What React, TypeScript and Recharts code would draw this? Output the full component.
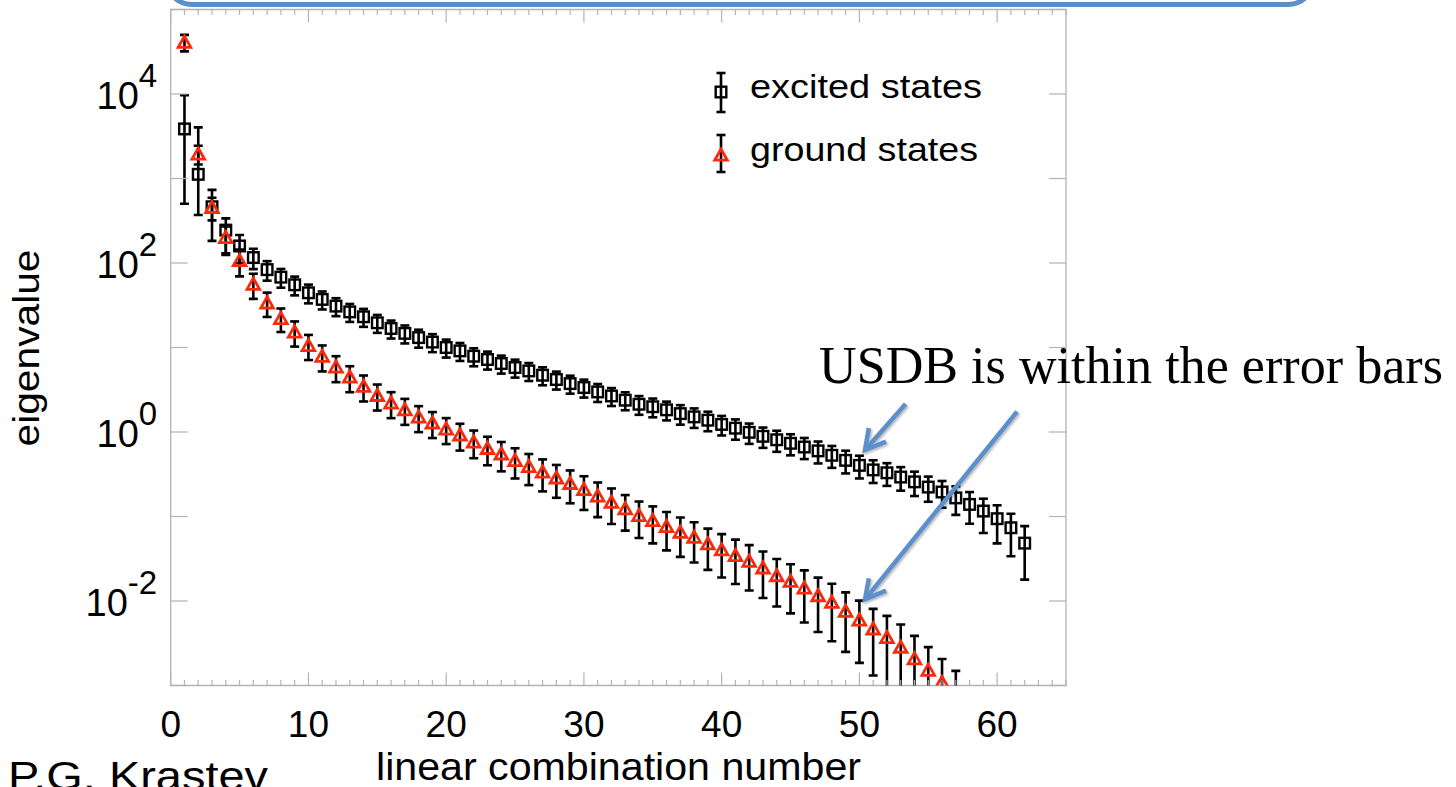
import React from 'react';
import { ScatterChart, Scatter, XAxis, YAxis, ErrorBar, Legend, ReferenceArea } from 'recharts';

// ---------- data ----------
const seriesNames = ['excited states', 'ground states'];

// excited states: eigenvalue for linear combination number 1..62
const excitedValues = [
  3860, 1120, 463, 245, 159, 116, 83.5, 68, 55.2, 44.4,
  37.1, 30.9, 26.4, 23.1, 19.6, 16.8, 14.7, 13.1, 11.6, 10.0,
  9.12, 7.89, 7.21, 6.46, 5.79, 5.28, 4.7, 4.18, 3.74, 3.36,
  2.98, 2.67, 2.38, 2.13, 1.99, 1.83, 1.65, 1.51, 1.38, 1.23,
  1.11, 0.991, 0.889, 0.809, 0.735, 0.664, 0.598, 0.53, 0.462, 0.403,
  0.356, 0.329, 0.293, 0.257, 0.223, 0.195, 0.166, 0.139, 0.116, 0.0942,
  0.0736, 0.0484,
];
// relative error (upper / lower) of excited states
const excitedErrUp = [
  1.5, 2.6, 0.585, 0.377, 0.35, 0.27, 0.26, 0.25, 0.25, 0.25,
  0.24, 0.24, 0.24, 0.24, 0.24, 0.24, 0.24, 0.24, 0.24, 0.24,
  0.24, 0.24, 0.24, 0.24, 0.24, 0.24, 0.24, 0.24, 0.24, 0.24,
  0.24, 0.24, 0.24, 0.25, 0.25, 0.25, 0.26, 0.26, 0.26, 0.26,
  0.27, 0.27, 0.27, 0.28, 0.28, 0.28, 0.29, 0.29, 0.3, 0.3,
  0.3, 0.3, 0.31, 0.32, 0.33, 0.35, 0.37, 0.4, 0.4, 0.44,
  0.465, 0.59,
];
const excitedErrDown = [
  0.87, 0.67, 0.605, 0.49, 0.37, 0.27, 0.26, 0.25, 0.25, 0.25,
  0.24, 0.24, 0.24, 0.24, 0.24, 0.24, 0.24, 0.24, 0.24, 0.24,
  0.24, 0.24, 0.24, 0.24, 0.24, 0.24, 0.24, 0.24, 0.24, 0.24,
  0.24, 0.24, 0.24, 0.25, 0.25, 0.25, 0.26, 0.26, 0.26, 0.26,
  0.27, 0.27, 0.27, 0.28, 0.28, 0.28, 0.29, 0.29, 0.3, 0.3,
  0.3, 0.3, 0.31, 0.32, 0.33, 0.35, 0.37, 0.41, 0.45, 0.49,
  0.54, 0.63,
];

// ground states: eigenvalue for linear combination number 1..57
const groundValues = [
  41000, 1950, 456, 201, 107, 56.2, 33.8, 22.1, 15.3, 10.6,
  7.89, 5.89, 4.48, 3.48, 2.72, 2.21, 1.84, 1.51, 1.285, 1.09,
  0.927, 0.765, 0.641, 0.552, 0.462, 0.392, 0.336, 0.287, 0.247, 0.2095,
  0.1754, 0.148, 0.1237, 0.103, 0.0899, 0.0763, 0.0653, 0.057, 0.0476, 0.0404,
  0.0346, 0.0296, 0.0247, 0.02, 0.0172, 0.0143, 0.0116, 0.00968, 0.00757, 0.00598,
  0.00469, 0.0037, 0.00285, 0.00208, 0.00152, 0.00109, 0.00078,
];
// relative (symmetric) error of ground states
const groundErr = [
  0.22, 0.25, 0.3, 0.35, 0.35, 0.33, 0.32, 0.31, 0.33, 0.33,
  0.34, 0.34, 0.34, 0.34, 0.34, 0.34, 0.34, 0.34, 0.34, 0.34,
  0.35, 0.36, 0.37, 0.38, 0.39, 0.4, 0.41, 0.42, 0.42, 0.43,
  0.44, 0.45, 0.45, 0.46, 0.465, 0.48, 0.49, 0.5, 0.51, 0.53,
  0.54, 0.55, 0.56, 0.57, 0.585, 0.61, 0.63, 0.655, 0.67, 0.69,
  0.72, 0.8, 0.85, 0.86, 0.87, 0.89, 0.91,
];

const xTicks = Array.from({ length: 66 }, (_, i) => i);
const xTickLabels = [0, 10, 20, 30, 40, 50, 60];
const yTicks = [1e-3, 1e-2, 1e-1, 1, 10, 100, 1000, 1e4, 1e5];
const yTickLabelExps = [-2, 0, 2, 4];

const excitedData = excitedValues.map((v, i) => ({
  x: i + 1,
  y: v,
  err: [v * excitedErrDown[i], v * excitedErrUp[i]],
}));
const groundData = groundValues.map((v, i) => ({
  x: i + 1,
  y: v,
  err: [v * groundErr[i], v * groundErr[i]],
}));

// ---------- styles ----------
const W = 1456;
const H = 787;
const PLOT_TOP = 9.5;
const PLOT_LEFT = 170.7;
const PLOT_RIGHT = 1066;
const PLOT_BOTTOM = 685.5;
const X_AXIS_H = 30;
const SANS = '"Liberation Sans", Arial, Helvetica, sans-serif';
const SERIF = '"Liberation Serif", "Times New Roman", serif';
const GRID = '#b3b3b3';
const RED = '#f82a0c';
const BLUE = '#5b8fcb';

const SquareShape = (props: any) => {
  const { cx, cy } = props;
  if (cx == null || cy == null) return <g />;
  return <rect x={cx - 5.3} y={cy - 5.3} width={10.6} height={10.6} fill="none" stroke="#000" strokeWidth={2.4} />;
};

const TriangleShape = (props: any) => {
  const { cx, cy } = props;
  if (cx == null || cy == null) return <g />;
  return (
    <path
      d={`M${cx},${cy - 6} L${cx + 6.3},${cy + 5.2} L${cx - 6.3},${cy + 5.2} Z`}
      fill="none"
      stroke={RED}
      strokeWidth={2.8}
      strokeLinejoin="miter"
    />
  );
};

const XTick = (props: any) => {
  const { x, y, payload } = props;
  const v = payload.value;
  const major = v % 10 === 0;
  const len = major ? 13 : 5.5;
  return (
    <g>
      <line x1={x} x2={x} y1={y} y2={y - len} stroke={GRID} strokeWidth={1.2} />
      <line x1={x} x2={x} y1={PLOT_TOP} y2={PLOT_TOP + len} stroke={GRID} strokeWidth={1.2} />
      {xTickLabels.includes(v) && (
        <text x={x} y={y + 51.5} textAnchor="middle" fontFamily={SANS} fontSize={37} fill="#000">
          {v}
        </text>
      )}
    </g>
  );
};

const YTick = (props: any) => {
  const { x, y, payload } = props;
  const e = Math.round(Math.log10(payload.value));
  return (
    <g>
      <line x1={x} x2={x + 17} y1={y} y2={y} stroke={GRID} strokeWidth={1.2} />
      <line x1={PLOT_RIGHT - 17} x2={PLOT_RIGHT} y1={y} y2={y} stroke={GRID} strokeWidth={1.2} />
      {yTickLabelExps.includes(e) && (
        <text x={x - 13.5} y={y + 15} textAnchor="end" fontFamily={SANS} fontSize={38} fill="#000">
          10
          <tspan dy={-22} fontSize={33}>
            {e}
          </tspan>
        </text>
      )}
    </g>
  );
};

const renderLegend = (props: any) => {
  const payload = props.payload || [];
  return (
    <svg width={300} height={120} style={{ overflow: 'visible' }}>
      {payload.map((entry: any, i: number) => {
        const isExcited = entry.value === seriesNames[0];
        const cy = isExcited ? 32 : 95;
        const top = isExcited ? cy - 19 : cy - 20;
        const bot = isExcited ? cy + 20 : cy + 17;
        return (
          <g key={i}>
            <line x1={21} x2={21} y1={top} y2={bot} stroke="#000" strokeWidth={2.6} />
            <line x1={16.5} x2={25.5} y1={top} y2={top} stroke="#000" strokeWidth={2.6} />
            <line x1={16.5} x2={25.5} y1={bot} y2={bot} stroke="#000" strokeWidth={2.6} />
            {isExcited ? (
              <rect x={15.7} y={cy - 5.3} width={10.6} height={10.6} fill="none" stroke="#000" strokeWidth={2.4} />
            ) : (
              <path
                d={`M21,${cy - 6} L27.3,${cy + 5.2} L14.7,${cy + 5.2} Z`}
                fill="none"
                stroke={RED}
                strokeWidth={2.8}
              />
            )}
            <text
              x={50}
              y={cy + 6}
              fontFamily={SANS}
              fontSize={34}
              fill="#000"
              textLength={isExcited ? 232 : 228}
              lengthAdjust="spacingAndGlyphs"
            >
              {entry.value}
            </text>
          </g>
        );
      })}
    </svg>
  );
};

const renderYLabel = () => (
  <text
    x={39}
    y={348}
    transform="rotate(-90, 39, 348)"
    textAnchor="middle"
    fontFamily={SANS}
    fontSize={37}
    fill="#000"
    textLength={197}
    lengthAdjust="spacingAndGlyphs"
  >
    eigenvalue
  </text>
);

const renderXLabel = () => (
  <text
    x={618.5}
    y={780}
    textAnchor="middle"
    fontFamily={SANS}
    fontSize={38}
    fill="#000"
    textLength={485}
    lengthAdjust="spacingAndGlyphs"
  >
    linear combination number
  </text>
);

const Annotations = () => (
  <svg
    width={W}
    height={H}
    style={{ position: 'absolute', left: 0, top: 0, pointerEvents: 'none' }}
  >
    <defs>
      <filter id="shadow" x="-20%" y="-20%" width="140%" height="140%">
        <feDropShadow dx="1.5" dy="1.5" stdDeviation="1.2" floodColor="#000" floodOpacity="0.3" />
      </filter>
      <clipPath id="plotClip" clipPathUnits="userSpaceOnUse">
        <rect x={PLOT_LEFT} y={PLOT_TOP} width={PLOT_RIGHT - PLOT_LEFT} height={PLOT_BOTTOM - PLOT_TOP} />
      </clipPath>
    </defs>
    {/* slide box at top */}
    <rect x={166} y={-70} width={1148} height={74.5} rx={26} fill="none" stroke={BLUE} strokeWidth={5} />
    <text
      x={819}
      y={383}
      fontFamily={SERIF}
      fontSize={53}
      fill="#000"
      textLength={624}
      lengthAdjust="spacingAndGlyphs"
    >
      USDB is within the error bars
    </text>
    <g stroke={BLUE} strokeWidth={4.5} fill="none" strokeLinecap="butt" filter="url(#shadow)">
      <line x1={905.6} y1={404} x2={865} y2={450} />
      <polyline points="886,441.7 865,450 868.8,428" strokeLinejoin="miter" />
      <line x1={1017} y1={411.7} x2={865} y2={599.3} />
      <polyline points="886,590.7 865,599.3 868.8,578.3" strokeLinejoin="miter" />
    </g>
    <text
      x={8}
      y={790}
      fontFamily={SANS}
      fontSize={40}
      fill="#000"
      textLength={260}
      lengthAdjust="spacingAndGlyphs"
    >
      P.G. Krastev
    </text>
  </svg>
);

export default function App() {
  return (
    <div
      style={{
        position: 'absolute',
        left: 0,
        top: 0,
        width: W,
        height: H,
        overflow: 'hidden',
        background: '#fff',
      }}
    >
      <style>{`.recharts-errorBars, .recharts-errorBar, .recharts-scatter { clip-path: url(#plotClip); }`}</style>
      <ScatterChart
        width={W}
        height={H}
        margin={{ top: PLOT_TOP, right: W - PLOT_RIGHT, bottom: H - PLOT_BOTTOM - X_AXIS_H, left: 0 }}
      >
        <XAxis
          type="number"
          dataKey="x"
          domain={[0, 65]}
          allowDataOverflow
          ticks={xTicks}
          interval={0}
          tickSize={0}
          tickMargin={0}
          axisLine={false}
          tickLine={false}
          tick={<XTick />}
          height={X_AXIS_H}
          label={renderXLabel}
        />
        <YAxis
          type="number"
          dataKey="y"
          scale="log"
          domain={[1e-3, 1e5]}
          allowDataOverflow
          ticks={yTicks}
          interval={0}
          tickSize={0}
          tickMargin={0}
          axisLine={false}
          tickLine={false}
          tick={<YTick />}
          width={PLOT_LEFT}
          label={renderYLabel}
        />
        <ReferenceArea
          x1={0}
          x2={65}
          y1={1e-3}
          y2={1e5}
          fill="none"
          stroke={GRID}
          strokeWidth={1.3}
          ifOverflow="visible"
        />
        <Scatter
          name={seriesNames[0]}
          data={excitedData}
          dataKey="y"
          shape={SquareShape}
          fill="#000"
          isAnimationActive={false}
        >
          <ErrorBar dataKey="err" direction="y" width={4.5} stroke="#000" strokeWidth={2.6} />
        </Scatter>
        <Scatter
          name={seriesNames[1]}
          data={groundData}
          dataKey="y"
          shape={TriangleShape}
          fill={RED}
          isAnimationActive={false}
        >
          <ErrorBar dataKey="err" direction="y" width={4.5} stroke="#000" strokeWidth={2.6} />
        </Scatter>
        <Legend
          layout="horizontal"
          verticalAlign="middle"
          align="center"
          content={renderLegend}
          wrapperStyle={{ position: 'absolute', left: 700, top: 60, width: 300, height: 120 }}
        />
      </ScatterChart>
      <Annotations />
    </div>
  );
}
